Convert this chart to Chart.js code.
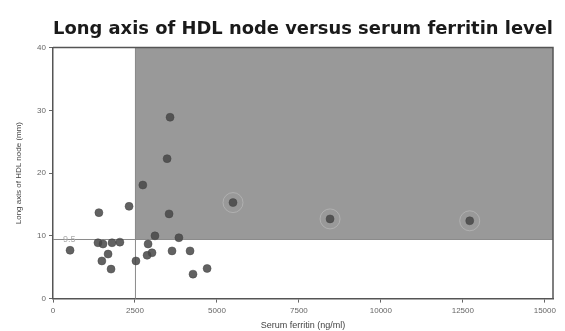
<!DOCTYPE html>
<html>
<head>
<meta charset="utf-8">
<script src="https://cdn.jsdelivr.net/npm/chart.js@4.4.0/dist/chart.umd.min.js"></script>
<style>
  html, body { margin: 0; padding: 0; background: #fff; }
  .chart-box { width: 565px; height: 331px; }
</style>
</head>
<body>
<div class="chart-box"><canvas id="hdlChart"></canvas></div>
<script>
// serum ferritin (ng/ml) and long axis of HDL node (mm)
const ferritin = [520, 1400, 1372, 1525, 1800, 2040, 1680, 1490, 1770, 2320, 2530, 2740, 2900, 2870, 3020,
  3110, 3570, 3480, 3540, 3630, 3840, 4180, 4270, 4700, 5490, 8450, 12710];
const hdlAxis = [7.7, 13.7, 8.9, 8.7, 8.9, 9.0, 7.1, 6.0, 4.7, 14.7, 6.0, 18.1, 8.7, 6.9, 7.3,
  10.0, 28.9, 22.3, 13.5, 7.6, 9.7, 7.6, 3.9, 4.8, 15.3, 12.7, 12.4];
// points drawn with a faint ring around them
const haloFerritin = [5490, 8450, 12710];
const haloAxis = [15.3, 12.7, 12.4];

const xTicks = [0, 2500, 5000, 7500, 10000, 12500, 15000];
const yTicks = [0, 10, 20, 30, 40];
const ferritinCut = 2500;
const axisCut = 9.5;

// shaded quadrant + cut-off lines
const cutoffPlugin = {
  id: 'cutoff',
  beforeDatasetsDraw(chart) {
    const { ctx, chartArea: a, scales: { x, y } } = chart;
    const cx = x.getPixelForValue(ferritinCut);
    const cy = y.getPixelForValue(axisCut);
    ctx.save();
    ctx.fillStyle = '#999999';
    ctx.fillRect(cx, a.top, a.right - cx, cy - a.top);
    ctx.strokeStyle = '#8a8a8a';
    ctx.lineWidth = 1;
    ctx.beginPath();
    ctx.moveTo(a.left, cy + 0.5);
    ctx.lineTo(a.right, cy + 0.5);
    ctx.moveTo(cx + 0.5, a.top);
    ctx.lineTo(cx + 0.5, a.bottom);
    ctx.stroke();
    ctx.fillStyle = '#aaaaaa';
    ctx.font = '9px "Liberation Sans", Arial, sans-serif';
    ctx.textBaseline = 'middle';
    ctx.fillText(String(axisCut), a.left + 10, cy + 1);
    ctx.restore();
  },
  afterDraw(chart) {
    const { ctx, chartArea: a } = chart;
    ctx.save();
    ctx.strokeStyle = '#555';
    ctx.lineWidth = 1.5;
    ctx.beginPath();
    ctx.moveTo(a.left, a.top);
    ctx.lineTo(a.right, a.top);
    ctx.lineTo(a.right, a.bottom);
    ctx.stroke();
    ctx.restore();
  }
};

const ctx = document.getElementById('hdlChart').getContext('2d');
new Chart(ctx, {
  type: 'scatter',
  data: {
    datasets: [
      {
        label: 'halo',
        data: haloFerritin.map((v, i) => ({ x: v, y: haloAxis[i] })),
        pointRadius: 10,
        pointBackgroundColor: 'rgba(0,0,0,0)',
        pointBorderColor: 'rgba(185,185,185,0.7)',
        pointBorderWidth: 1
      },
      {
        label: 'Patients',
        data: ferritin.map((v, i) => ({ x: v, y: hdlAxis[i] })),
        pointRadius: 4,
        pointBackgroundColor: 'rgba(70,70,70,0.85)',
        pointBorderColor: 'rgba(70,70,70,0.5)',
        pointBorderWidth: 1
      }
    ]
  },
  options: {
    responsive: true,
    maintainAspectRatio: false,
    animation: false,
    layout: { padding: { left: 14, right: 12, top: 7, bottom: 0 } },
    plugins: {
      legend: { display: false },
      tooltip: { enabled: false },
      title: {
        display: true,
        fullSize: false,
        text: 'Long axis of HDL node versus serum ferritin level',
        color: '#1a1a1a',
        font: { family: '"DejaVu Sans", Verdana, sans-serif', size: 18, weight: 'bold' },
        padding: { top: 12, bottom: 7 }
      }
    },
    scales: {
      x: {
        type: 'linear',
        min: 0,
        max: 15250,
        afterBuildTicks: (s) => { s.ticks = xTicks.map(v => ({ value: v })); },
        grid: { drawOnChartArea: false, drawTicks: true, tickLength: 4, color: '#666' },
        border: { color: '#555', width: 1.5 },
        ticks: {
          color: '#666',
          font: { size: 8, family: '"Liberation Sans", Arial, sans-serif' },
          padding: 3,
          maxRotation: 0,
          callback: (v) => String(v)
        },
        title: {
          display: true,
          text: 'Serum ferritin (ng/ml)',
          color: '#444',
          font: { size: 9, family: '"Liberation Sans", Arial, sans-serif' },
          padding: { top: 2, bottom: 0 }
        }
      },
      y: {
        type: 'linear',
        min: 0,
        max: 40,
        afterBuildTicks: (s) => { s.ticks = yTicks.map(v => ({ value: v })); },
        afterFit: (s) => { s.width = 39; },
        grid: { drawOnChartArea: false, drawTicks: true, tickLength: 4, color: '#666' },
        border: { color: '#555', width: 1.5 },
        ticks: { color: '#666', font: { size: 8, family: '"Liberation Sans", Arial, sans-serif' }, padding: 3 },
        title: {
          display: true,
          text: 'Long axis of HDL node (mm)',
          color: '#444',
          font: { size: 8, family: '"Liberation Sans", Arial, sans-serif' },
          padding: { top: 0, bottom: 4 }
        }
      }
    }
  },
  plugins: [cutoffPlugin]
});
</script>
</body>
</html>
